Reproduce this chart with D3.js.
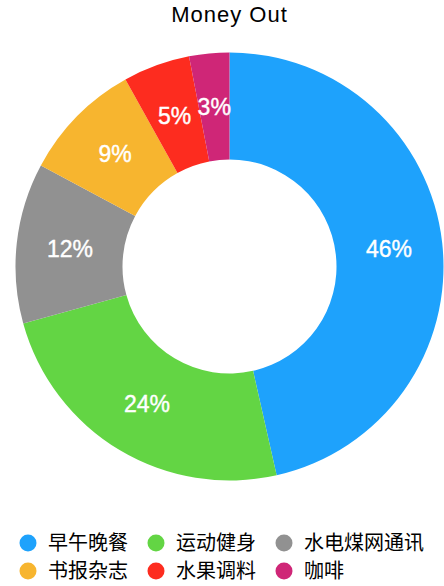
<!DOCTYPE html>
<html>
<head>
<meta charset="utf-8">
<script src="https://cdn.jsdelivr.net/npm/d3@7/dist/d3.min.js"></script>
<style>
  html, body { margin: 0; padding: 0; background: #fff; }
  svg { display: block; }
</style>
</head>
<body>
<svg id="chart" width="444" height="586"></svg>
<script>
// Monthly spending categories and their shares (%)
const categories = ["早午晚餐", "运动健身", "水电煤网通讯", "书报杂志", "水果调料", "咖啡"];
const values = [46, 24, 12, 9, 5, 3];
const colors = ["#1ea2fc", "#63d544", "#919191", "#f7b52f", "#fd2c1f", "#cf2677"];
const title = "Money Out";

const svg = d3.select("#chart");
const cx = 229.5, cy = 266.5;
const outerR = 214, innerR = 107;

svg.append("text")
  .attr("x", cx)
  .attr("y", 22)
  .attr("text-anchor", "middle")
  .attr("font-family", "'Liberation Sans', Arial, sans-serif")
  .attr("font-size", 22)
  .attr("letter-spacing", 1)
  .attr("fill", "#000")
  .text(title);

const pie = d3.pie().sort(null).value(d => d.value);
const arc = d3.arc().innerRadius(innerR).outerRadius(outerR);
const data = categories.map((c, i) => ({ name: c, value: values[i], color: colors[i] }));
const arcs = pie(data);

const g = svg.append("g").attr("transform", `translate(${cx},${cy})`);

g.selectAll("path.slice")
  .data(arcs)
  .join("path")
  .attr("class", "slice")
  .attr("d", arc)
  .attr("fill", d => d.data.color);

g.selectAll("text.pct")
  .data(arcs)
  .join("text")
  .attr("class", "pct")
  .attr("transform", d => `translate(${arc.centroid(d)})`)
  .attr("text-anchor", "middle")
  .attr("dy", "0.36em")
  .attr("font-family", "'Liberation Sans', Arial, sans-serif")
  .attr("font-size", 23)
  .attr("fill", "#fff")
  .attr("stroke", "#fff")
  .attr("stroke-width", 0.4)
  .text(d => d.data.value + "%");

// Legend: three columns, two rows
const colX = [28, 156, 284];
const rowY = [543, 571];
const legend = svg.append("g");
const items = legend.selectAll("g.item")
  .data(data)
  .join("g")
  .attr("class", "item")
  .attr("transform", (d, i) => `translate(${colX[i % 3]},${rowY[Math.floor(i / 3)]})`);

items.append("circle")
  .attr("r", 8.5)
  .attr("fill", d => d.color);

items.append("text")
  .attr("x", 20)
  .attr("dy", "0.36em")
  .attr("font-family", "'Noto Sans CJK SC', sans-serif")
  .attr("font-size", 20)
  .attr("fill", "#000")
  .text(d => d.name);
</script>
</body>
</html>
